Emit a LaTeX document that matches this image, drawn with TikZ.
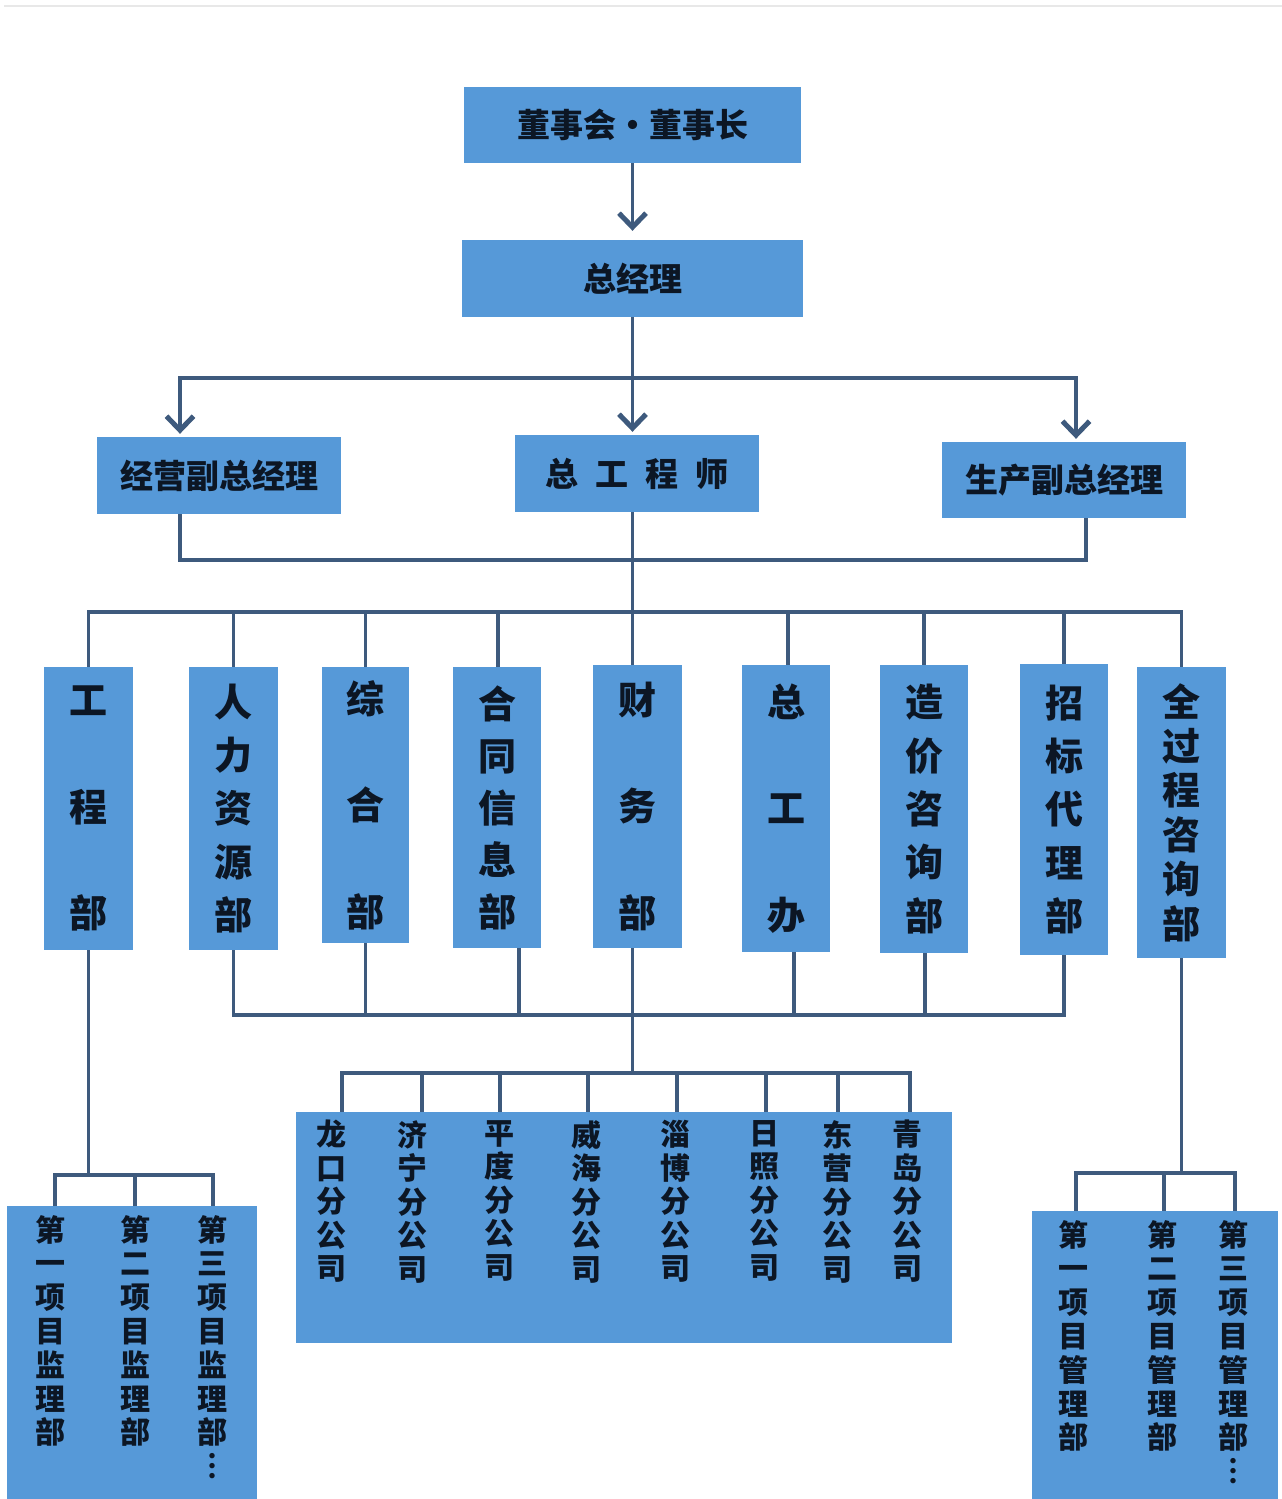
\documentclass[tikz,border=0pt]{standalone}
\usepackage{fontspec}
\newfontfamily\cjk{Noto Sans CJK SC}
\usetikzlibrary{arrows.meta}
\definecolor{boxblue}{RGB}{86,153,216}
\definecolor{linec}{RGB}{62,90,125}
\definecolor{txt}{RGB}{12,22,36}
\begin{document}
\begin{tikzpicture}[x=1pt,y=-1pt,
  box/.style={fill=boxblue, draw=none, inner sep=0pt, text=txt},
  hbox/.style={box, font=\cjk\bfseries\fontsize{33}{40}\selectfont},
  vbox/.style={box, align=center, font=\cjk\bfseries\fontsize{38}{#1}\selectfont},
  coltext/.style={align=center, inner sep=0pt, text=txt, anchor=north, font=\cjk\bfseries\fontsize{30}{#1}\selectfont},
  conn/.style={draw=linec, line width=3.5pt},
  arr/.style={conn, -{Straight Barb[length=14pt,width=27pt,line width=5pt]}}]
% canvas
\fill[white] (0,0) rectangle (1282,1499);
\useasboundingbox (0,0) rectangle (1282,1499);
\draw[gray!18, line width=2pt] (4,6) -- (1282,6);

% top levels
\node[hbox, minimum width=337pt, minimum height=76pt] (dsz) at (632.5,125) {董事会・董事长};
\node[hbox, minimum width=341pt, minimum height=77pt] (zjl) at (632.5,278.5) {总经理};
\node[hbox, minimum width=244pt, minimum height=77pt] (jy) at (219,475.5) {经营副总经理};
\node[hbox, minimum width=244pt, minimum height=77pt] (zgs) at (637,473.5) {总\hspace{17pt}工\hspace{17pt}程\hspace{17pt}师};
\node[hbox, minimum width=244pt, minimum height=76pt] (sc) at (1064,480) {生产副总经理};

\coordinate (t1) at (632.5,378);
\coordinate (tl) at (180,378);
\coordinate (tr) at (1076,378);
\coordinate (lb) at (180,560);
\coordinate (rb) at (1086,560);
\coordinate (db) at (632.5,612);

\draw[arr, shorten >=9pt] (dsz.south) -- (zjl.north);
\draw[conn] (zjl.south) -- (t1);
\draw[arr, shorten >=3pt] (t1) -- (t1 |- zgs.north);
\draw[arr, shorten >=3pt] (t1) -- (tl) -- (tl |- jy.north);
\draw[arr, shorten >=3pt] (t1) -- (tr) -- (tr |- sc.north);
\draw[conn] (tl |- jy.south) -- (lb) -- (rb) -- (rb |- sc.south);
\draw[conn] (t1 |- zgs.south) -- (db);

% departments
\node[vbox=106.5, minimum width=89pt, minimum height=283pt] (gc) at (88.5,808.5) {工\\程\\部};
\node[vbox=53.3, minimum width=89pt, minimum height=283pt] (rl) at (233.5,808.5) {人\\力\\资\\源\\部};
\node[vbox=106.5, minimum width=87pt, minimum height=276pt] (zh) at (365.5,805) {综\\合\\部};
\node[vbox=52, minimum width=88pt, minimum height=281pt] (ht) at (497,807.5) {合\\同\\信\\息\\部};
\node[vbox=106.5, minimum width=89pt, minimum height=283pt] (cw) at (637.5,806.5) {财\\务\\部};
\node[vbox=106.5, minimum width=88pt, minimum height=287pt] (zgb) at (786,808.5) {总\\工\\办};
\node[vbox=53.3, minimum width=88pt, minimum height=288pt] (zj) at (924,809) {造\\价\\咨\\询\\部};
\node[vbox=53.3, minimum width=88pt, minimum height=291pt] (zb) at (1064,809.5) {招\\标\\代\\理\\部};
\node[vbox=44.4, minimum width=89pt, minimum height=291pt] (qgc) at (1181.5,812.5) {全\\过\\程\\咨\\询\\部};

\draw[conn] (gc.north) -- (gc.north |- db) -- (qgc.north |- db) -- (qgc.north);
\draw[conn] (rl.north) -- (rl.north |- db);
\draw[conn] (zh.north) -- (zh.north |- db);
\draw[conn] ([xshift=1pt]ht.north) -- ([xshift=1pt]ht.north |- db);
\draw[conn] (db) -- (db |- cw.north);
\draw[conn] ([xshift=2pt]zgb.north) -- ([xshift=2pt]zgb.north |- db);
\draw[conn] (zj.north) -- (zj.north |- db);
\draw[conn] (zb.north) -- (zb.north |- db);

\coordinate (lb2) at (632.5,1015);
\draw[conn] (rl.south) -- (rl.south |- lb2) -- (zb.south |- lb2) -- (zb.south);
\draw[conn] (zh.south) -- (zh.south |- lb2);
\draw[conn] ([xshift=22pt]ht.south) -- ([xshift=22pt]ht.south |- lb2);
\draw[conn] ([xshift=8pt]zgb.south) -- ([xshift=8pt]zgb.south |- lb2);
\draw[conn] ([xshift=1pt]zj.south) -- ([xshift=1pt]zj.south |- lb2);

% branch companies
\node[box, minimum width=656pt, minimum height=231pt] (fen) at (624,1227.5) {};
\coordinate (fb) at (632.5,1073);
\coordinate (fl) at (342,1073);
\coordinate (fr) at (910,1073);
\draw[conn] (db |- cw.south) -- (fb);
\draw[conn] (fl |- fen.north) -- (fl) -- (fr) -- (fr |- fen.north);
\foreach \x in {422,500,588,677,766,838}
  \draw[conn] (\x,1073) -- (\x,1073 |- fen.north);
\node[coltext=33.5] (f1) at (331,1120) {龙\\口\\分\\公\\司};
\node[coltext=33.5] (f2) at (412,1120) {济\\宁\\分\\公\\司};
\node[coltext=33.5] (f3) at (499,1120) {平\\度\\分\\公\\司};
\node[coltext=33.5] (f4) at (586,1120) {威\\海\\分\\公\\司};
\node[coltext=33.5] (f5) at (675,1120) {淄\\博\\分\\公\\司};
\node[coltext=33.5] (f6) at (764,1120) {日\\照\\分\\公\\司};
\node[coltext=33.5] (f7) at (837,1120) {东\\营\\分\\公\\司};
\node[coltext=33.5] (f8) at (907,1120) {青\\岛\\分\\公\\司};

% project supervision departments (left)
\node[box, minimum width=250pt, minimum height=293pt] (jl) at (132,1352.5) {};
\coordinate (jb) at (88.5,1175);
\coordinate (jl1) at (55,1175);
\coordinate (jl3) at (213,1175);
\draw[conn] (gc.south) -- (jb);
\draw[conn] (jl1 |- jl.north) -- (jl1) -- (jl3) -- (jl3 |- jl.north);
\draw[conn] (135,1175) -- (135,1175 |- jl.north);
\node[coltext=33.8] (j1) at (50,1215) {第\\一\\项\\目\\监\\理\\部};
\node[coltext=33.8] (j2) at (135,1215) {第\\二\\项\\目\\监\\理\\部};
\node[coltext=33.8] (j3) at (212,1215) {第\\三\\项\\目\\监\\理\\部\\︙};

% project management departments (right)
\node[box, minimum width=246pt, minimum height=288pt] (gl) at (1155,1355) {};
\coordinate (gb) at (1181.5,1173);
\coordinate (gl1) at (1076,1173);
\coordinate (gl3) at (1235,1173);
\draw[conn] (qgc.south) -- (gb);
\draw[conn] (gl1 |- gl.north) -- (gl1) -- (gl3) -- (gl3 |- gl.north);
\draw[conn] (1164,1173) -- (1164,1173 |- gl.north);
\node[coltext=33.8] (g1) at (1073,1220) {第\\一\\项\\目\\管\\理\\部};
\node[coltext=33.8] (g2) at (1162,1220) {第\\二\\项\\目\\管\\理\\部};
\node[coltext=33.8] (g3) at (1233,1220) {第\\三\\项\\目\\管\\理\\部\\︙};
\end{tikzpicture}
\end{document}
